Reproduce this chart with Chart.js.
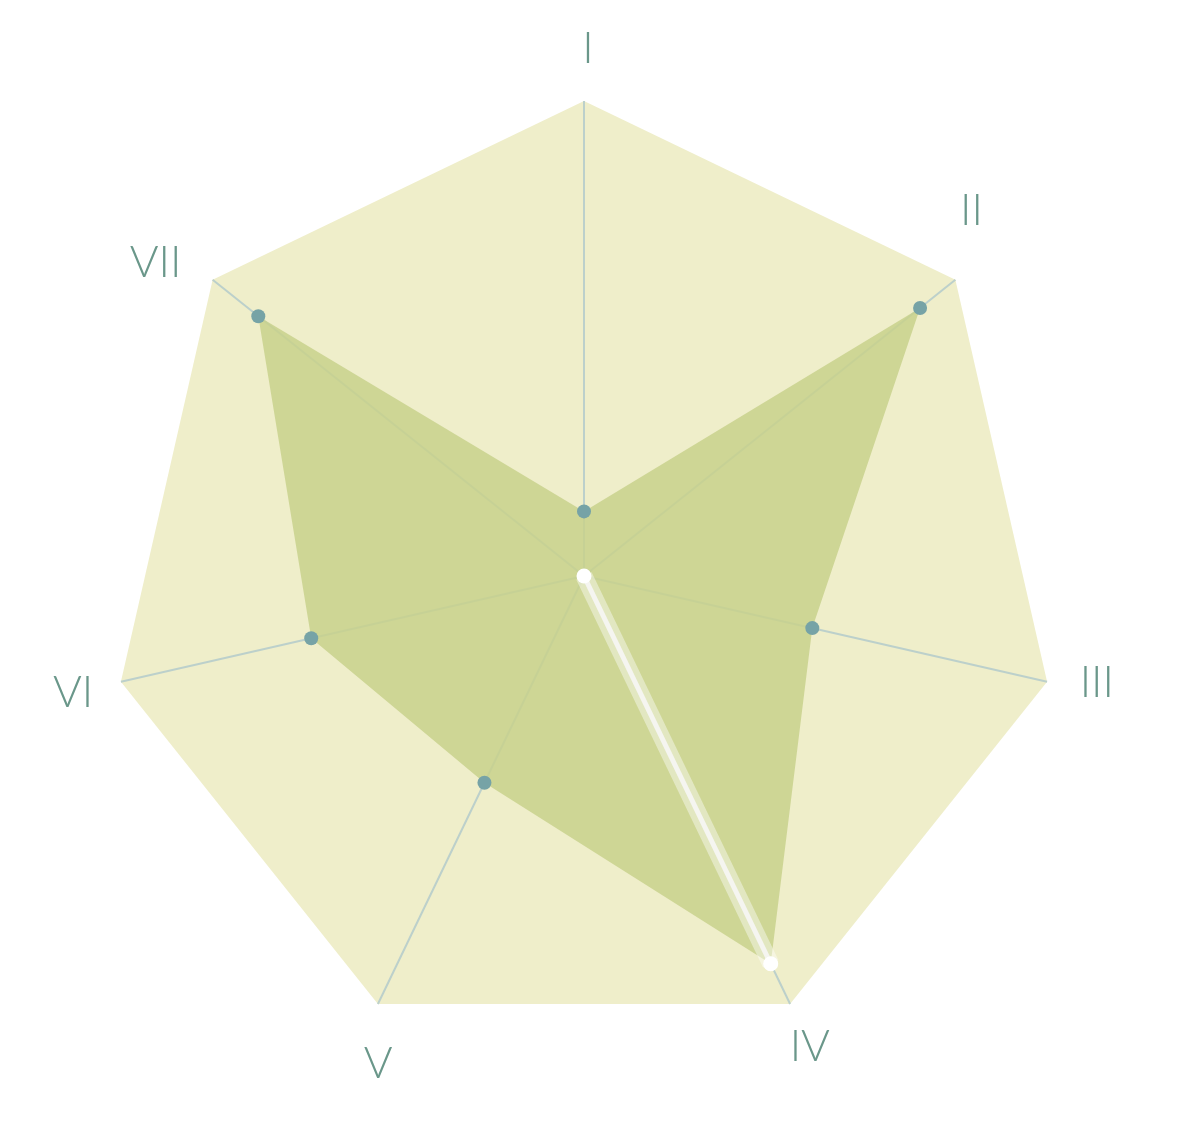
<!DOCTYPE html>
<html>
<head>
<meta charset="utf-8">
<script src="https://cdn.jsdelivr.net/npm/chart.js@4/dist/chart.umd.min.js"></script>
<style>
html,body{margin:0;padding:0;background:#fff;}
#wrap{width:1186px;height:1146px;position:relative;}
</style>
</head>
<body>
<div id="wrap"><canvas id="c" width="1186" height="1146"></canvas></div>
<script>
const categories = ['I','II','III','IV','V','VI','VII'];
const values = [13.6, 90.5, 49.3, 90.6, 48.3, 58.9, 87.7];
const scaleMin = 0;
const scaleMax = 100;
const highlightIndex = 3;

// label styling: gap beyond the outer polygon and small visual nudges
const labelGap = 50;
const labelNudge = [[4,-4],[-23,-40],[1,-12],[-2,-4],[22,13],[1,-2],[-18,12]];
const labelFont = '300 44px Lato';
const labelColor = '#6a978a';

const pointColors = categories.map((c,i)=> i===highlightIndex ? '#ffffff' : '#76a3a6');

const hoverLine = {
  id:'hoverLine',
  afterDatasetsDraw(chart){
    const meta = chart.getDatasetMeta(0);
    const pt = meta.data[highlightIndex];
    const s = chart.scales.r;
    const ctx = chart.ctx;
    ctx.save();
    ctx.lineCap='butt';
    ctx.strokeStyle='rgba(255,255,255,0.42)';
    ctx.lineWidth=17;
    ctx.beginPath();ctx.moveTo(s.xCenter,s.yCenter);ctx.lineTo(pt.x,pt.y);ctx.stroke();
    ctx.strokeStyle='#f5f5f0';
    ctx.lineWidth=5;
    ctx.beginPath();ctx.moveTo(s.xCenter,s.yCenter);ctx.lineTo(pt.x,pt.y);ctx.stroke();
    ctx.fillStyle='#ffffff';
    ctx.beginPath();ctx.arc(s.xCenter,s.yCenter,7.5,0,Math.PI*2);ctx.fill();
    ctx.beginPath();ctx.arc(pt.x,pt.y,7.5,0,Math.PI*2);ctx.fill();
    ctx.restore();
  }
};

const axisLabels = {
  id:'axisLabels',
  afterDraw(chart){
    const s = chart.scales.r;
    const ctx = chart.ctx;
    ctx.save();
    ctx.font = labelFont;
    ctx.fillStyle = labelColor;
    ctx.textAlign = 'center';
    ctx.textBaseline = 'alphabetic';
    const capHalf = 16;
    chart.data.labels.forEach((lab,i)=>{
      const p = s.getPointPosition(i, s.drawingArea + labelGap);
      ctx.fillText(lab, p.x + labelNudge[i][0], p.y + labelNudge[i][1] + capHalf);
    });
    ctx.restore();
  }
};

new Chart(document.getElementById('c'), {
  type:'radar',
  data:{
    labels:categories,
    datasets:[{
      data:values,
      fill:true,
      backgroundColor:'rgba(200,209,140,0.85)',
      borderWidth:0,
      borderColor:'rgba(0,0,0,0)',
      pointRadius:7,
      pointBorderWidth:0,
      pointBackgroundColor:pointColors,
      pointHoverRadius:7
    }]
  },
  options:{
    responsive:false,
    animation:false,
    events:[],
    layout:{padding:{top:101,bottom:94,left:109,right:126}},
    plugins:{legend:{display:false},tooltip:{enabled:false}},
    scales:{
      r:{
        min:scaleMin,max:scaleMax,
        backgroundColor:'#efeeca',
        ticks:{display:false},
        grid:{display:false},
        angleLines:{display:true,color:'#bcd0cb',lineWidth:2},
        pointLabels:{display:false}
      }
    }
  },
  plugins:[hoverLine, axisLabels]
});
</script>
</body>
</html>
